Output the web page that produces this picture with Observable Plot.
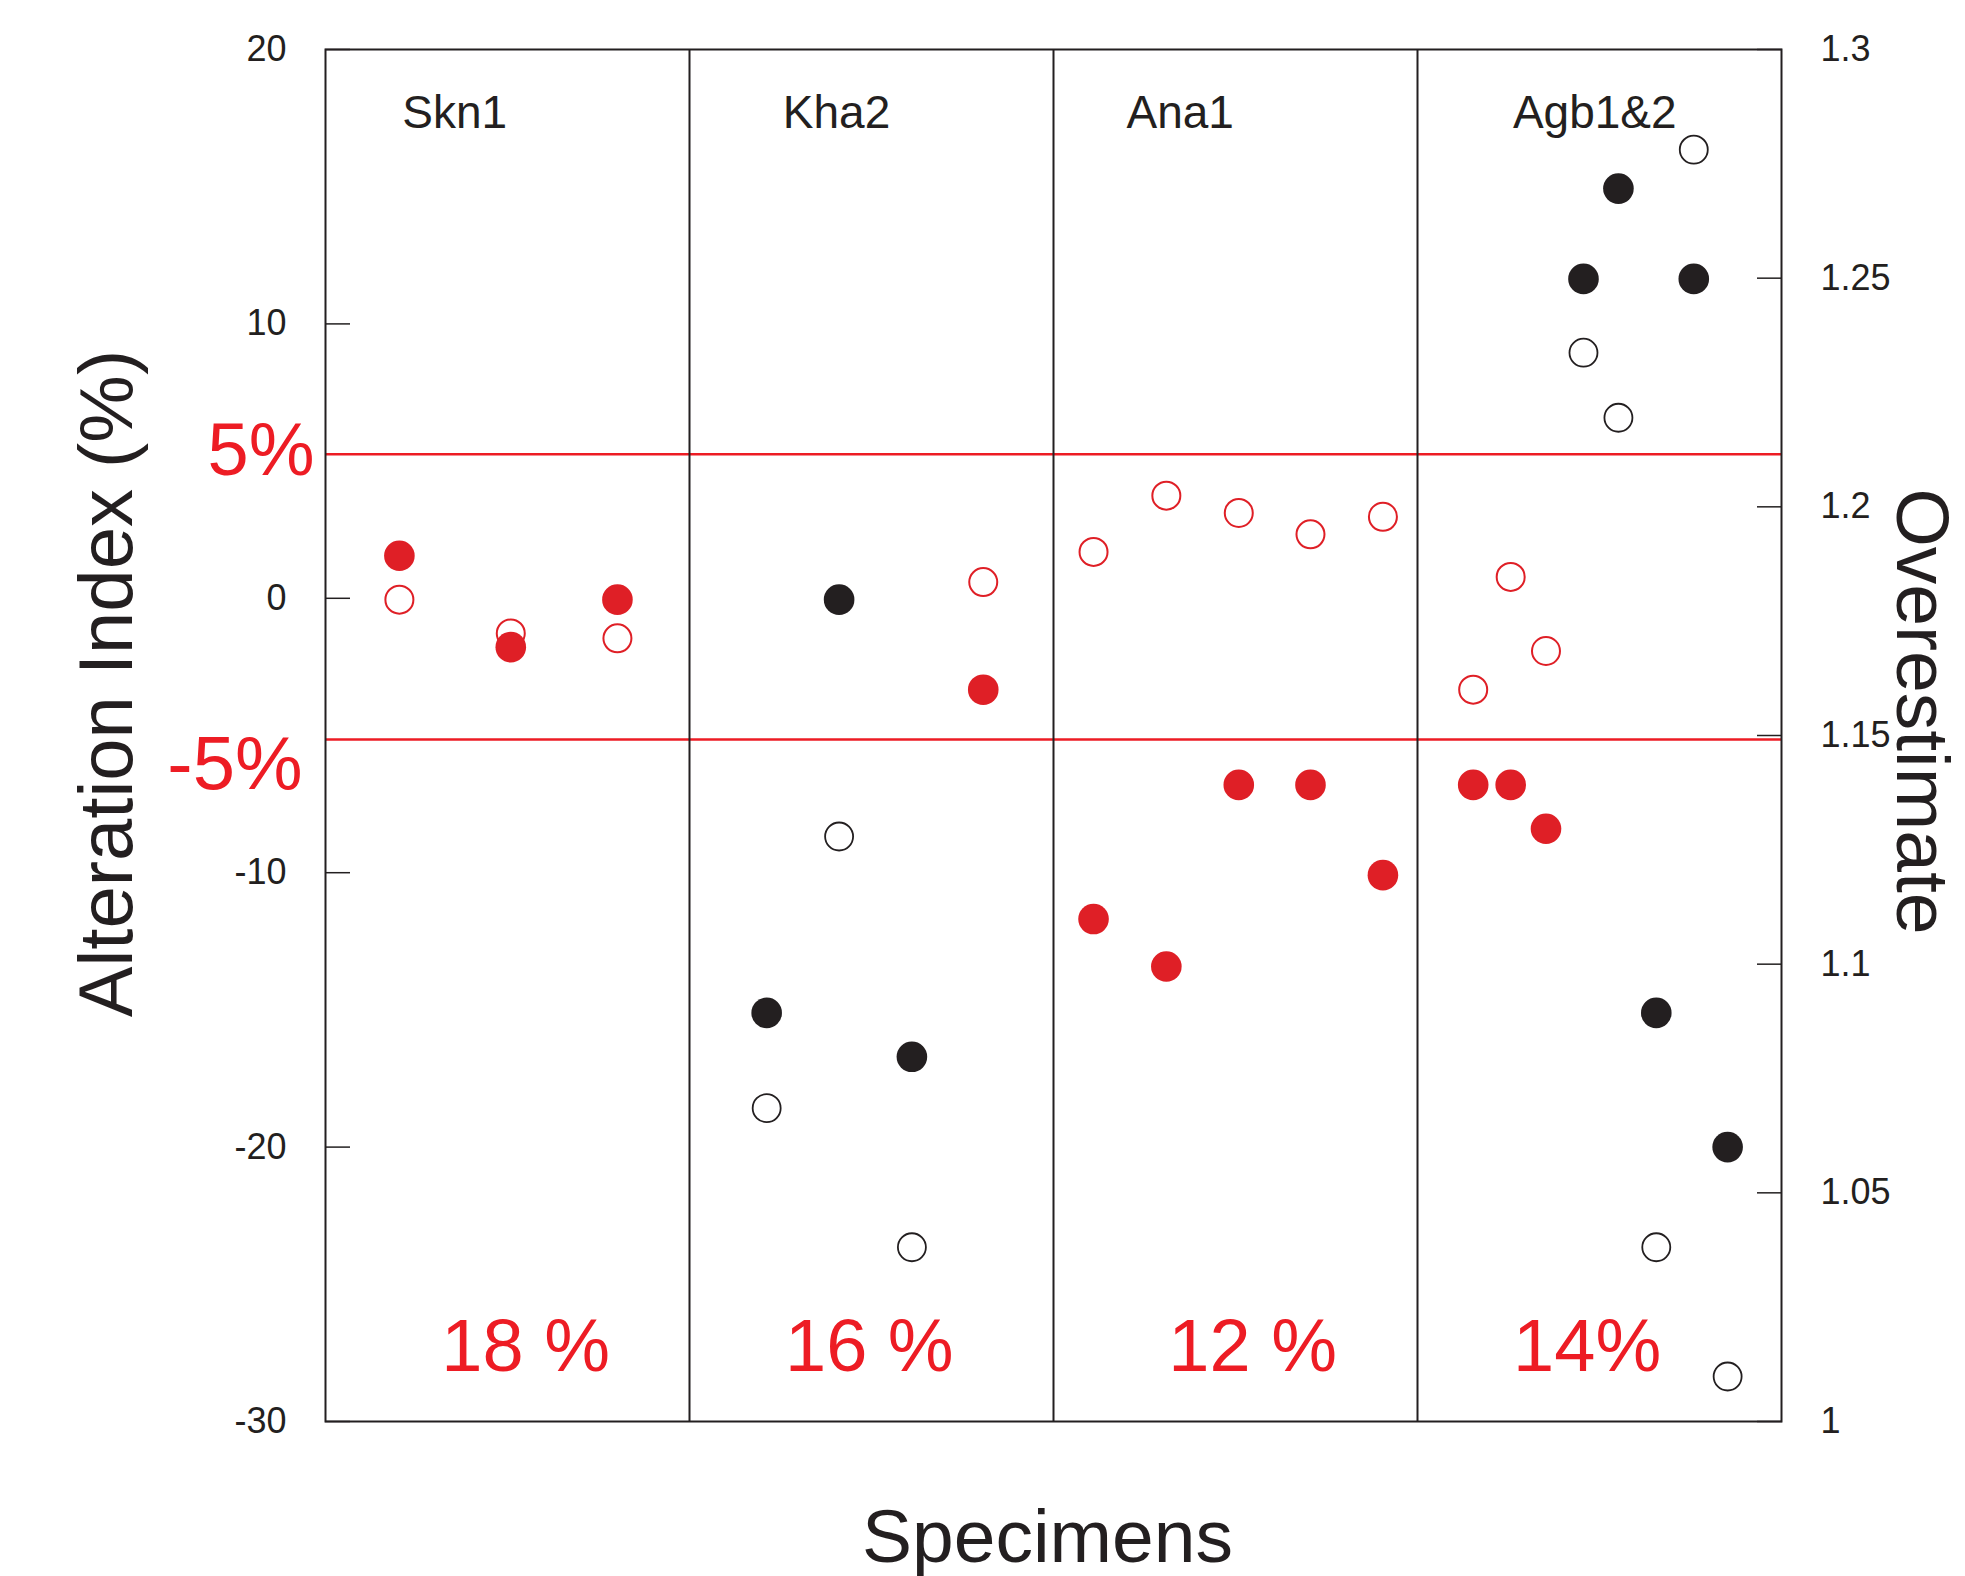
<!DOCTYPE html>
<html>
<head>
<meta charset="utf-8">
<script src="https://cdn.jsdelivr.net/npm/d3@7"></script>
<script src="https://cdn.jsdelivr.net/npm/@observablehq/plot@0.6"></script>
<style>
  body { margin: 0; background: #ffffff; }
  #chart svg { display: block; }
</style>
</head>
<body>
<div id="chart"></div>
<script>
// ---------- data ----------
const specimens = ["Skn1", "Kha2", "Ana1", "Agb1&2"];
const specimenLabelX = [0.355, 1.404, 2.348, 3.487];
const percentLabels = ["18 %", "16 %", "12 %", "14%"];
const percentLabelX = [0.550, 1.494, 2.547, 3.466];
const panelDividers = [1, 2, 3];
const upperThreshold = 5.25;
const lowerThreshold = -5.15;
const leftTicks = [20, 10, 0, -10, -20, -30];
const leftTickLabels = ["20", "10", "0", "-10", "-20", "-30"];
const rightTicks = [1, 1.05, 1.1, 1.15, 1.2, 1.25, 1.3];
const rightTickLabels = ["1", "1.05", "1.1", "1.15", "1.2", "1.25", "1.3"];

const redFilledX = [0.203, 0.509, 0.802, 1.807, 2.110, 2.310, 2.509, 2.706, 2.905, 3.153, 3.256, 3.353];
const redFilledY = [1.55, -1.78, -0.05, -3.33, -11.69, -13.42, -6.80, -6.80, -10.09, -6.80, -6.80, -8.40];
const redOpenX   = [0.203, 0.509, 0.802, 1.807, 2.110, 2.310, 2.509, 2.706, 2.905, 3.153, 3.256, 3.353];
const redOpenY   = [-0.05, -1.28, -1.46, 0.59, 1.69, 3.74, 3.11, 2.33, 2.97, -3.33, 0.78, -1.92];
const blackFilledX = [1.212, 1.411, 1.611, 3.456, 3.552, 3.656, 3.759, 3.852];
const blackFilledY = [-15.11, -0.05, -16.71, 11.64, 14.93, -15.11, 11.64, -20.0];
const blackOpenX   = [1.212, 1.411, 1.611, 3.456, 3.552, 3.656, 3.759, 3.852];
const blackOpenY   = [-18.58, -8.68, -23.65, 8.95, 6.58, -23.65, 16.35, -28.36];

// ---------- build tables ----------
const zip = (xs, ys) => xs.map((x, i) => ({x, y: ys[i]}));
const redFilled = zip(redFilledX, redFilledY);
const redOpen = zip(redOpenX, redOpenY);
const blackFilled = zip(blackFilledX, blackFilledY);
const blackOpen = zip(blackOpenX, blackOpenY);

// right axis (Overestimate) is linear with the left axis: 1 ↔ -30 %, 1.3 ↔ 20 %
const yDomain = [-30, 20];
const overToAI = v => yDomain[0] + (v - 1) / 0.3 * (yDomain[1] - yDomain[0]);
const rightPositions = rightTicks.map(overToAI);
const rightLabelMap = new Map(rightPositions.map((p, i) => [Math.round(p * 1000), rightTickLabels[i]]));
const leftLabelMap = new Map(leftTicks.map((p, i) => [p, leftTickLabels[i]]));

const panelLabels = specimens.map((s, i) => ({x: specimenLabelX[i], text: s}));
const pctLabels = percentLabels.map((s, i) => ({x: percentLabelX[i], text: s}));

const FONT = "'Liberation Sans', Arial, Helvetica, sans-serif";
const INK = "#231F20";
const RED = "#ED1C24";
const DOT_RED = "#DF1F26";

const chart = Plot.plot({
  width: 1965,
  height: 1576,
  marginLeft: 325,
  marginRight: 184,
  marginTop: 49,
  marginBottom: 155,
  style: {fontFamily: FONT, color: INK, background: "#ffffff"},
  x: {domain: [0, 4], axis: null},
  y: {domain: yDomain},
  marks: [
    // threshold lines
    Plot.ruleY([upperThreshold, lowerThreshold], {stroke: RED, strokeWidth: 2.5}),
    // panel dividers
    Plot.ruleX(panelDividers, {stroke: INK, strokeWidth: 2}),
    // left axis
    Plot.axisY(leftTicks, {
      anchor: "left", tickSize: -25, tickPadding: 64, fontSize: 36,
      stroke: INK, strokeWidth: 1.5, fill: INK, label: null,
      tickFormat: d => leftLabelMap.get(d)
    }),
    // right axis
    Plot.axisY(rightPositions, {
      anchor: "right", tickSize: -25, tickPadding: 64, fontSize: 36,
      stroke: INK, strokeWidth: 1.5, fill: INK, label: null,
      tickFormat: d => rightLabelMap.get(Math.round(d * 1000))
    }),
    // points: open first, then filled on top
    Plot.dot(redOpen, {x: "x", y: "y", r: 14, stroke: DOT_RED, strokeWidth: 2, fill: "white"}),
    Plot.dot(blackOpen, {x: "x", y: "y", r: 14, stroke: INK, strokeWidth: 1.8, fill: "white"}),
    Plot.dot(redFilled, {x: "x", y: "y", r: 15.3, fill: DOT_RED, stroke: "none"}),
    Plot.dot(blackFilled, {x: "x", y: "y", r: 15.3, fill: INK, stroke: "none"}),
    // specimen labels
    Plot.text(panelLabels, {x: "x", y: () => 17.15, text: "text", fontSize: 46, fill: INK, lineAnchor: "bottom", textAnchor: "middle"}),
    // percentage labels
    Plot.text(pctLabels, {x: "x", y: () => -28.15, text: "text", fontSize: 74, fill: RED, lineAnchor: "bottom", textAnchor: "middle"}),
    // threshold labels
    Plot.text(["5%"], {y: () => upperThreshold, frameAnchor: "left", text: d => d, fontSize: 74, fill: RED, textAnchor: "end", lineAnchor: "bottom", dx: -11, dy: 21}),
    Plot.text(["-5%"], {y: () => lowerThreshold, frameAnchor: "left", text: d => d, fontSize: 76, fill: RED, textAnchor: "end", lineAnchor: "bottom", dx: -23, dy: 49}),
    // axis titles
    Plot.text(["Alteration Index (%)"], {frameAnchor: "left", text: d => d, rotate: -90, fontSize: 76, fill: INK, textAnchor: "middle", lineAnchor: "middle", dx: -218, dy: -52}),
    Plot.text(["Overestimate"], {frameAnchor: "right", text: d => d, rotate: 90, fontSize: 75, fill: INK, textAnchor: "middle", lineAnchor: "middle", dx: 139, dy: -24}),
    Plot.text(["Specimens"], {frameAnchor: "bottom", text: d => d, fontSize: 75, fill: INK, textAnchor: "middle", lineAnchor: "bottom", dx: -6, dy: 140}),
    // frame
    Plot.frame({stroke: INK, strokeWidth: 2})
  ]
});

document.getElementById("chart").appendChild(chart);
</script>
</body>
</html>
